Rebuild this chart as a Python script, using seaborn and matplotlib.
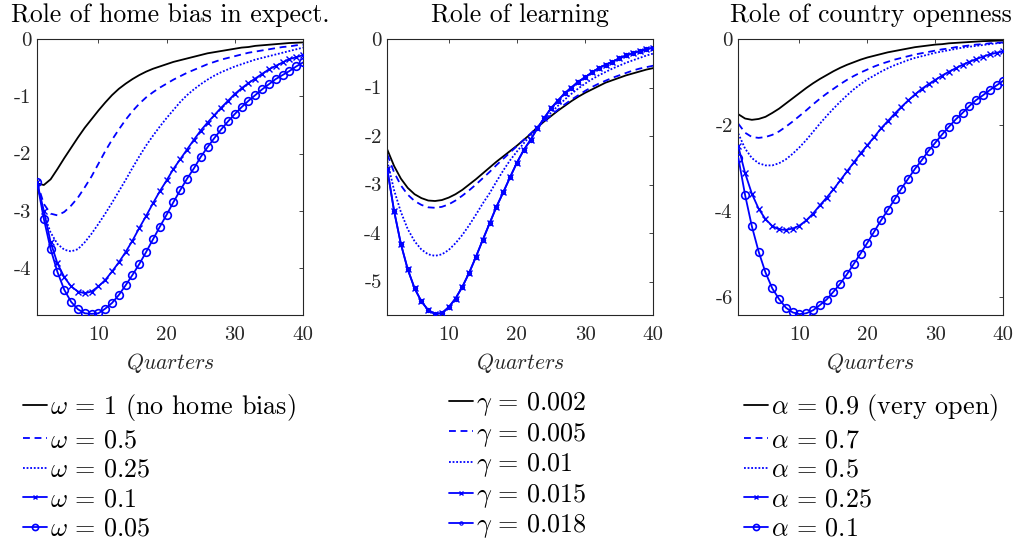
import matplotlib
matplotlib.use("Agg")
import matplotlib.pyplot as plt
import seaborn as sns

quarters = list(range(1, 41))

titles = ["Role of home bias in expect.", "Role of learning", "Role of country openness"]
xlabel = r"$Quarters$"

# ---- Panel 1: home bias in expectations ----
omega_labels = [r"$\omega\,=\,1$ (no home bias)", r"$\omega\,=\,0.5$", r"$\omega\,=\,0.25$",
                r"$\omega\,=\,0.1$", r"$\omega\,=\,0.05$"]
omega_1 = [-2.52, -2.55, -2.45, -2.27, -2.08, -1.90, -1.72, -1.55, -1.40, -1.25,
           -1.11, -0.98, -0.87, -0.78, -0.70, -0.63, -0.57, -0.52, -0.48, -0.44,
           -0.40, -0.37, -0.34, -0.31, -0.28, -0.25, -0.23, -0.21, -0.19, -0.17,
           -0.15, -0.14, -0.12, -0.11, -0.10, -0.09, -0.08, -0.07, -0.065, -0.06]
omega_05 = [-2.50, -2.88, -3.05, -3.08, -3.02, -2.91, -2.77, -2.59, -2.40, -2.18,
            -1.96, -1.76, -1.58, -1.41, -1.26, -1.13, -1.02, -0.93, -0.85, -0.78,
            -0.71, -0.65, -0.59, -0.54, -0.49, -0.44, -0.40, -0.36, -0.33, -0.30,
            -0.27, -0.24, -0.22, -0.20, -0.18, -0.16, -0.14, -0.13, -0.11, -0.10]
omega_025 = [-2.50, -3.05, -3.38, -3.58, -3.68, -3.71, -3.67, -3.55, -3.40, -3.23,
             -3.05, -2.86, -2.66, -2.46, -2.25, -2.05, -1.86, -1.69, -1.53, -1.38,
             -1.24, -1.10, -0.98, -0.88, -0.79, -0.71, -0.64, -0.58, -0.53, -0.48,
             -0.44, -0.40, -0.36, -0.33, -0.30, -0.27, -0.24, -0.21, -0.18, -0.15]
omega_01 = [-2.50, -3.00, -3.55, -3.92, -4.16, -4.32, -4.41, -4.44, -4.41, -4.32,
            -4.21, -4.06, -3.90, -3.72, -3.52, -3.30, -3.09, -2.87, -2.66, -2.47,
            -2.27, -2.10, -1.93, -1.76, -1.60, -1.46, -1.33, -1.20, -1.08, -0.96,
            -0.86, -0.77, -0.69, -0.61, -0.53, -0.47, -0.41, -0.35, -0.32, -0.28]
omega_005 = [-2.50, -3.14, -3.67, -4.07, -4.38, -4.59, -4.72, -4.79, -4.80, -4.79,
             -4.71, -4.61, -4.47, -4.30, -4.12, -3.93, -3.72, -3.50, -3.28, -3.07,
             -2.85, -2.64, -2.44, -2.26, -2.06, -1.89, -1.73, -1.58, -1.44, -1.31,
             -1.19, -1.08, -0.98, -0.88, -0.79, -0.70, -0.63, -0.56, -0.48, -0.41]

# ---- Panel 2: learning ----
gamma_labels = [r"$\gamma\,=\,0.002$", r"$\gamma\,=\,0.005$", r"$\gamma\,=\,0.01$",
                r"$\gamma\,=\,0.015$", r"$\gamma\,=\,0.018$"]
gamma_0002 = [-2.28, -2.62, -2.88, -3.07, -3.20, -3.28, -3.33, -3.34, -3.32, -3.27,
              -3.20, -3.11, -3.00, -2.89, -2.77, -2.65, -2.53, -2.42, -2.31, -2.20,
              -2.08, -1.96, -1.82, -1.70, -1.59, -1.48, -1.38, -1.28, -1.19, -1.11,
              -1.04, -0.97, -0.90, -0.85, -0.80, -0.75, -0.71, -0.67, -0.63, -0.60]
gamma_0005 = [-2.38, -2.75, -3.02, -3.21, -3.34, -3.42, -3.47, -3.48, -3.46, -3.41,
              -3.33, -3.23, -3.12, -3.00, -2.87, -2.74, -2.60, -2.47, -2.34, -2.21,
              -2.08, -1.95, -1.82, -1.69, -1.57, -1.46, -1.35, -1.25, -1.16, -1.07,
              -0.99, -0.92, -0.86, -0.80, -0.75, -0.70, -0.65, -0.61, -0.58, -0.55]
gamma_001 = [-2.52, -3.12, -3.57, -3.92, -4.17, -4.34, -4.44, -4.47, -4.44, -4.35,
             -4.21, -4.04, -3.84, -3.62, -3.39, -3.18, -2.94, -2.71, -2.50, -2.32,
             -2.15, -1.99, -1.83, -1.67, -1.52, -1.38, -1.25, -1.13, -1.02, -0.92,
             -0.83, -0.75, -0.68, -0.61, -0.55, -0.49, -0.44, -0.39, -0.34, -0.30]
gamma_0015 = [-2.69, -3.55, -4.23, -4.75, -5.14, -5.41, -5.59, -5.67, -5.65, -5.53,
              -5.35, -5.11, -4.82, -4.49, -4.14, -3.80, -3.46, -3.16, -2.85, -2.55,
              -2.29, -2.08, -1.84, -1.63, -1.43, -1.27, -1.12, -1.00, -0.88, -0.79,
              -0.69, -0.60, -0.53, -0.47, -0.40, -0.34, -0.29, -0.25, -0.21, -0.18]
gamma_0018 = [-2.69, -3.55, -4.23, -4.75, -5.14, -5.41, -5.59, -5.67, -5.65, -5.53,
              -5.35, -5.11, -4.82, -4.49, -4.14, -3.80, -3.46, -3.16, -2.85, -2.55,
              -2.29, -2.08, -1.84, -1.63, -1.43, -1.27, -1.12, -1.00, -0.88, -0.79,
              -0.69, -0.60, -0.53, -0.47, -0.40, -0.34, -0.29, -0.25, -0.21, -0.18]

# ---- Panel 3: country openness ----
alpha_labels = [r"$\alpha\,=\,0.9$ (very open)", r"$\alpha\,=\,0.7$", r"$\alpha\,=\,0.5$",
                r"$\alpha\,=\,0.25$", r"$\alpha\,=\,0.1$"]
alpha_09 = [-1.75, -1.85, -1.88, -1.86, -1.81, -1.72, -1.62, -1.50, -1.38, -1.26,
            -1.14, -1.03, -0.93, -0.84, -0.75, -0.67, -0.60, -0.54, -0.48, -0.43,
            -0.39, -0.35, -0.31, -0.28, -0.25, -0.22, -0.19, -0.17, -0.15, -0.13,
            -0.12, -0.10, -0.09, -0.08, -0.07, -0.06, -0.05, -0.045, -0.04, -0.035]
alpha_07 = [-1.97, -2.18, -2.28, -2.30, -2.28, -2.23, -2.15, -2.04, -1.92, -1.79,
            -1.66, -1.52, -1.39, -1.27, -1.16, -1.05, -0.95, -0.86, -0.78, -0.71,
            -0.64, -0.58, -0.53, -0.48, -0.44, -0.40, -0.36, -0.33, -0.30, -0.27,
            -0.24, -0.22, -0.19, -0.17, -0.15, -0.13, -0.12, -0.10, -0.09, -0.08]
alpha_05 = [-2.20, -2.55, -2.77, -2.89, -2.94, -2.94, -2.89, -2.80, -2.67, -2.52,
            -2.35, -2.16, -1.97, -1.79, -1.62, -1.46, -1.31, -1.17, -1.05, -0.94,
            -0.85, -0.76, -0.68, -0.61, -0.55, -0.49, -0.44, -0.40, -0.36, -0.32,
            -0.29, -0.26, -0.23, -0.20, -0.18, -0.16, -0.14, -0.12, -0.10, -0.09]
alpha_025 = [-2.50, -3.12, -3.60, -3.95, -4.19, -4.35, -4.43, -4.44, -4.41, -4.34,
             -4.22, -4.06, -3.87, -3.69, -3.50, -3.29, -3.08, -2.87, -2.66, -2.47,
             -2.28, -2.08, -1.91, -1.74, -1.58, -1.43, -1.29, -1.16, -1.05, -0.95,
             -0.85, -0.76, -0.68, -0.60, -0.53, -0.47, -0.41, -0.36, -0.32, -0.29]
alpha_01 = [-2.76, -3.63, -4.36, -4.95, -5.43, -5.80, -6.05, -6.25, -6.36, -6.40,
            -6.38, -6.31, -6.19, -6.06, -5.88, -5.69, -5.47, -5.23, -4.99, -4.74,
            -4.48, -4.22, -3.98, -3.73, -3.48, -3.25, -3.02, -2.82, -2.60, -2.41,
            -2.22, -2.04, -1.87, -1.72, -1.56, -1.42, -1.31, -1.19, -1.08, -0.97]

xticks = [10, 20, 30, 40]
yticks_p1 = [0, -1, -2, -3, -4]
yticks_p2 = [0, -1, -2, -3, -4, -5]
yticks_p3 = [0, -2, -4, -6]

panels = [
    (titles[0], omega_labels, [omega_1, omega_05, omega_025, omega_01, omega_005], yticks_p1),
    (titles[1], gamma_labels, [gamma_0002, gamma_0005, gamma_001, gamma_0015, gamma_0018], yticks_p2),
    (titles[2], alpha_labels, [alpha_09, alpha_07, alpha_05, alpha_025, alpha_01], yticks_p3),
]

BLUE = "#0000ff"
styles = [
    dict(color="black", linestyle="-", marker=None, zorder=2),
    dict(color=BLUE, linestyle=(0, (3.8, 2.6)), marker=None, zorder=2),
    dict(color=BLUE, linestyle=(0, (1, 1)), marker=None, zorder=2),
    dict(color=BLUE, linestyle="-", marker="x", markersize=4, markeredgewidth=1.0, zorder=3),
    dict(color=BLUE, linestyle="-", marker="o", markersize=5.5, markeredgewidth=1.2,
         markerfacecolor="none", zorder=3),
]

sns.set_style("white")
plt.rcParams.update({
    "font.family": ["cmr10"],
    "mathtext.fontset": "cm",
    "axes.unicode_minus": False,
    "axes.formatter.use_mathtext": False,
    "text.color": "#000000",
})

fig = plt.figure(figsize=(10.18, 5.44), dpi=100)
axes_pos = [(37, 266), (387.3, 266), (738.3, 265)]
legend_x = [23, 449, 744]
legend_top = [392, 390, 392]
legend_spacing = [0.22, 0.1, 0.22]
W, H = 1018.0, 544.0
top_px, bot_px = 39, 315

for i, (title, labels, series, yt) in enumerate(panels):
    l, w = axes_pos[i]
    ax = fig.add_axes([l / W, 1 - bot_px / H, w / W, (bot_px - top_px) / H])
    for j, (vals, lab) in enumerate(zip(series, labels)):
        st = dict(styles[j])
        if i == 1 and j == 4:
            st["markersize"] = 3.0
            st["markeredgewidth"] = 0.8
            st["zorder"] = 2.5
        mk = st.pop("marker")
        kw = dict(st)
        if mk is not None:
            kw["marker"] = mk
            kw["markeredgecolor"] = st["color"]
        sns.lineplot(x=quarters, y=vals, ax=ax, linewidth=1.3, label=lab, legend=False, **kw)
    allv = [v for s in series for v in s]
    ax.set_xlim(1, 40)
    ax.set_ylim(min(allv) - 0.02, 0)
    ax.set_xticks(xticks)
    ax.set_yticks(yt)
    ax.set_yticklabels([str(t) for t in yt])
    ax.tick_params(axis="both", direction="in", length=3, width=0.6, colors="#262626",
                   labelsize=15, top=True, right=True)
    ax.tick_params(axis="x", pad=8)
    ax.tick_params(axis="y", pad=4)
    for sp in ax.spines.values():
        sp.set_color("#262626")
        sp.set_linewidth(0.8)
        sp.set_visible(True)
    ax.set_title(title, fontsize=18.5, pad=12)
    ax.set_xlabel(xlabel, fontsize=15.5, labelpad=5)
    ax.set_ylabel("")
    ax.legend(loc="upper left", bbox_to_anchor=(legend_x[i] / W, 1 - legend_top[i] / H),
              bbox_transform=fig.transFigure, frameon=False, fontsize=18.8,
              handlelength=0.9, handletextpad=0.15, labelspacing=legend_spacing[i],
              borderpad=0, borderaxespad=0, markerscale=0.8)

fig.savefig("out.png", dpi=100)
